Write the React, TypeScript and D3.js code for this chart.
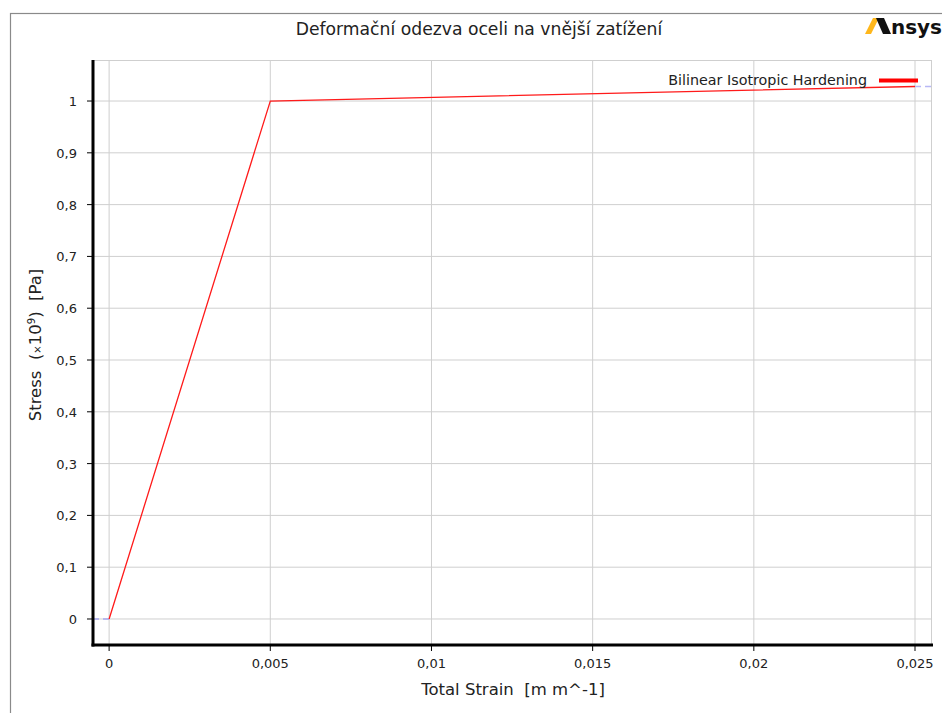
import React from "react";
import * as d3 from "d3";

const strain = [0, 0.005, 0.025];
const stress = [0, 1.0, 1.028];
const xTicks = [0, 0.005, 0.01, 0.015, 0.02, 0.025];
const yTicks = [0, 0.1, 0.2, 0.3, 0.4, 0.5, 0.6, 0.7, 0.8, 0.9, 1];
const title = "Deformační odezva oceli na vnější zatížení";
const seriesName = "Bilinear Isotropic Hardening";

const W = 942, H = 713;
const L = 93, R = 932, T = 60, B = 645;
const FONT = "DejaVu Sans, Verdana, sans-serif";

const fmt = (v: number) => String(+v.toFixed(4)).replace(".", ",");

export default function App() {
  const x = d3.scaleLinear().domain([-0.0005, 0.025527]).range([L, R]);
  const y = d3.scaleLinear().domain([-0.0502, 1.0792]).range([B, T]);
  const pts: [number, number][] = strain.map((s, i) => [s, stress[i]]);
  const line = d3.line<[number, number]>().x(d => x(d[0])).y(d => y(d[1]));
  const last = pts[pts.length - 1];

  return (
    <svg width={W} height={H} style={{ position: "absolute", left: 0, top: 0, background: "#fff" }}>
      <rect x={10.5} y={13.5} width={W + 20} height={H + 20} fill="none" stroke="#8a8a8a" strokeWidth={1.2} />
      <text x={479} y={35} textAnchor="middle" fontFamily={FONT} fontSize={17.2} fill="#222">{title}</text>
      {/* logo */}
      <polygon points="873,18 879,18 871,34 865,34" fill="#ffb71b" />
      <polygon points="876,18 884,18 891,34 883,34" fill="#111" />
      <text x={942} y={34} textAnchor="end" fontFamily={FONT} fontWeight="bold" fontSize={20} fill="#111">nsys</text>

      {/* grid */}
      {xTicks.map(t => (
        <line key={"gx" + t} x1={x(t)} x2={x(t)} y1={T} y2={B} stroke="#cfcfcf" strokeWidth={1} />
      ))}
      {yTicks.map(t => (
        <line key={"gy" + t} x1={L} x2={R} y1={y(t)} y2={y(t)} stroke="#cfcfcf" strokeWidth={1} />
      ))}
      <line x1={L} x2={R} y1={T + 0.5} y2={T + 0.5} stroke="#cfcfcf" />
      <line x1={R - 0.5} x2={R - 0.5} y1={T} y2={B} stroke="#cfcfcf" />

      {/* extrapolation dashes */}
      <line x1={L} x2={x(0)} y1={y(0)} y2={y(0)} stroke="#a8a8f0" strokeWidth={1.5} strokeDasharray="6,4" />
      <line x1={x(last[0])} x2={R} y1={y(last[1])} y2={y(last[1])} stroke="#b8b8f5" strokeWidth={1.5} strokeDasharray="6,4" />

      {/* data */}
      <path d={line(pts) || ""} fill="none" stroke="#ff1a1a" strokeWidth={1.3} />

      {/* axes */}
      <line x1={L} x2={L} y1={T} y2={B + 1.5} stroke="#000" strokeWidth={3} />
      <line x1={L - 1.5} x2={R + 1} y1={B} y2={B} stroke="#000" strokeWidth={3} />
      {yTicks.map(t => (
        <g key={"ty" + t}>
          <line x1={L - 6} x2={L} y1={y(t)} y2={y(t)} stroke="#000" />
          <text x={77} y={y(t) + 5} textAnchor="end" fontFamily={FONT} fontSize={13} fill="#222">{fmt(t)}</text>
        </g>
      ))}
      {xTicks.map(t => (
        <g key={"tx" + t}>
          <line x1={x(t)} x2={x(t)} y1={B} y2={B + 6} stroke="#000" />
          <text x={x(t)} y={668} textAnchor="middle" fontFamily={FONT} fontSize={13} fill="#222">{fmt(t)}</text>
        </g>
      ))}

      {/* axis titles */}
      <text x={513} y={695} textAnchor="middle" fontFamily={FONT} fontSize={16.5} fill="#222" xmlSpace="preserve">Total Strain  [m m^-1]</text>
      <text transform="translate(41,345) rotate(-90)" textAnchor="middle" fontFamily={FONT} fontSize={16.5} fill="#222" xmlSpace="preserve">
        {"Stress  ("}<tspan fontSize={10}>×</tspan>{"10"}<tspan fontSize={10} dy={-6}>9</tspan><tspan dy={6}>{")  [Pa]"}</tspan>
      </text>

      {/* legend */}
      <text x={867} y={85} textAnchor="end" fontFamily={FONT} fontSize={14.3} fill="#222">{seriesName}</text>
      <line x1={879} x2={918} y1={80.5} y2={80.5} stroke="#ff0000" strokeWidth={4} />
    </svg>
  );
}
